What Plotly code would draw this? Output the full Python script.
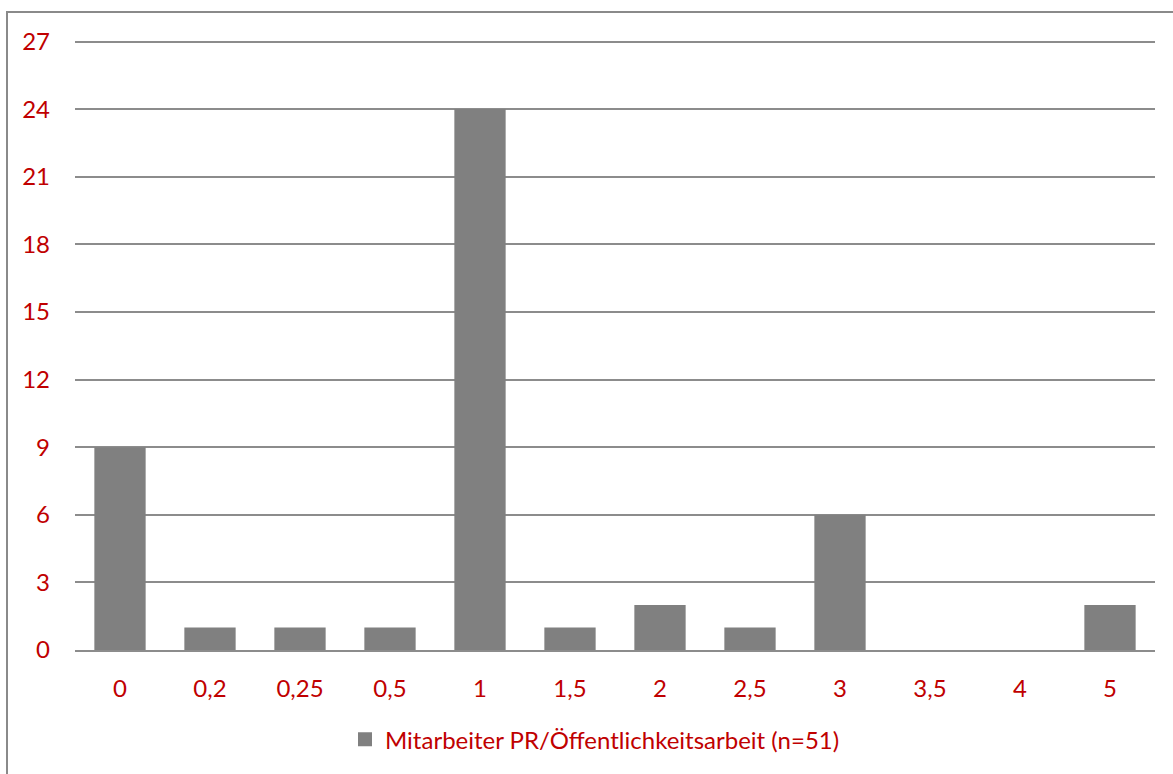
import plotly.graph_objects as go

# Number of PR staff positions (FTE) and how many organisations reported each
categories = ["0", "0,2", "0,25", "0,5", "1", "1,5", "2", "2,5", "3", "3,5", "4", "5"]
counts = [9, 1, 1, 1, 24, 1, 2, 1, 6, 0, 0, 2]
y_ticks = [0, 3, 6, 9, 12, 15, 18, 21, 24, 27]
series_name = "Mitarbeiter PR/Öffentlichkeitsarbeit (n=51)"

RED = "#C00000"
GRID = "#8C8C8C"
BAR = "#808080"
FONT = "Lato"
FS = 24

W, H = 1173, 774
L, R, T, B = 75, 18, 37, 122
plot_w = W - L - R
plot_h = H - T - B

fig = go.Figure()
fig.add_trace(go.Bar(
    x=categories,
    y=counts,
    name=series_name,
    marker=dict(color=BAR, line=dict(width=0)),
    showlegend=False,
))
# Legend entry with a square swatch
fig.add_trace(go.Scatter(
    x=[None], y=[None],
    mode="markers",
    name=series_name,
    marker=dict(symbol="square", size=14, color=BAR),
    showlegend=True,
))

# Chart-area frame
def px_x(p):
    return (p - L) / plot_w

def px_y(p):
    return (H - B - p) / plot_h

fig.add_shape(type="rect", xref="paper", yref="paper",
              x0=px_x(7), x1=px_x(W + 5), y0=px_y(H + 5), y1=px_y(12),
              line=dict(color="#8A8A8A", width=2), fillcolor="rgba(0,0,0,0)",
              layer="below")

fig.update_layout(
    width=W, height=H,
    margin=dict(l=L, r=R, t=T, b=B, pad=0),
    paper_bgcolor="white",
    plot_bgcolor="white",
    bargap=0.43,
    font=dict(family=FONT, size=FS, color=RED),
    showlegend=True,
    legend=dict(
        orientation="h",
        x=0.5 - 20 / plot_w, xanchor="center",
        y=px_y(742), yanchor="middle",
        font=dict(family=FONT, size=FS, color=RED),
        itemwidth=30,
        bgcolor="rgba(0,0,0,0)",
    ),
    xaxis=dict(
        type="category",
        categoryorder="array",
        categoryarray=categories,
        showgrid=False,
        showline=True,
        linecolor=GRID,
        linewidth=2,
        ticks="",
        ticklabelstandoff=16,
        tickfont=dict(family=FONT, size=FS, color=RED),
        fixedrange=True,
    ),
    yaxis=dict(
        range=[0, 27.2],
        tickmode="array",
        tickvals=y_ticks,
        ticktext=[str(v) for v in y_ticks],
        showgrid=True,
        gridcolor=GRID,
        gridwidth=1.5,
        zeroline=False,
        showline=False,
        ticks="",
        ticklabelstandoff=24,
        tickfont=dict(family=FONT, size=FS, color=RED),
        fixedrange=True,
    ),
)

fig.write_html("out.html", config={"displayModeBar": False})
